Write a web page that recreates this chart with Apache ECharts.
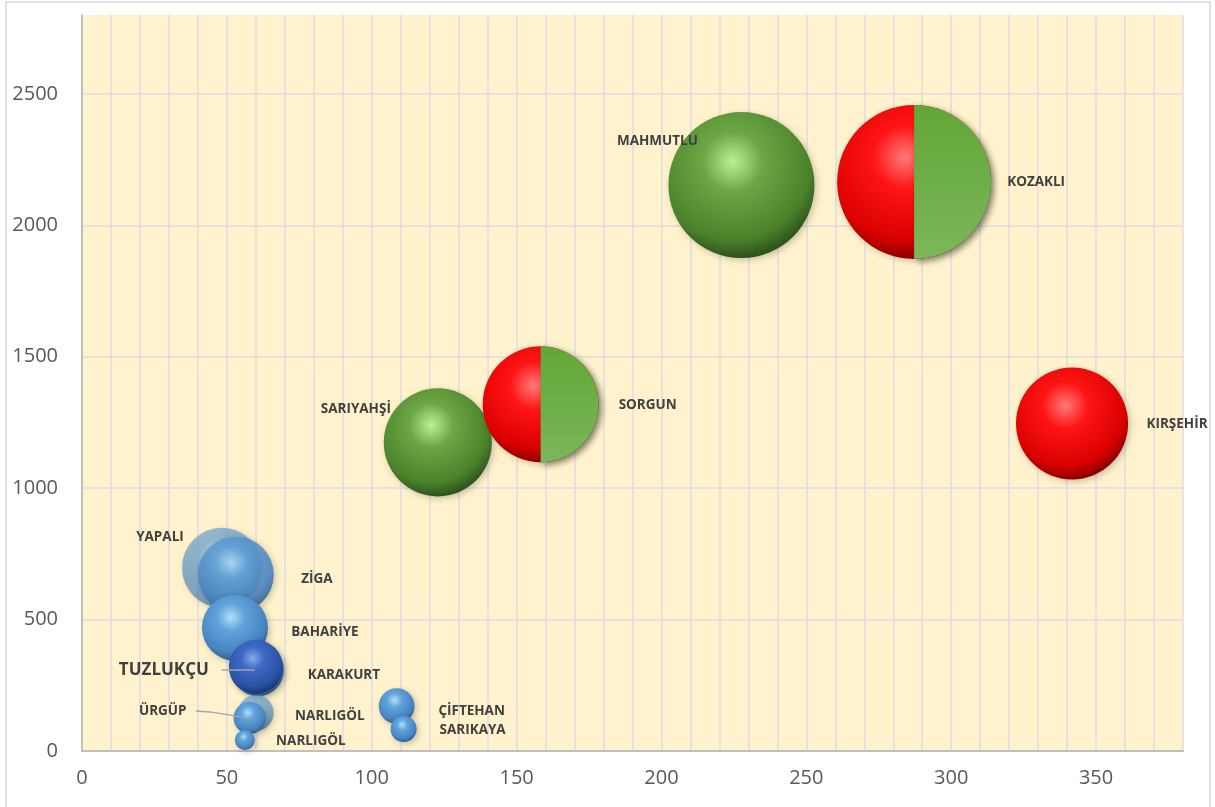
<!DOCTYPE html>
<html>
<head>
<meta charset="utf-8">
<script src="https://cdn.jsdelivr.net/npm/echarts@6/dist/echarts.min.js"></script>
<style>html,body{margin:0;padding:0;background:#fff;}#c{width:1215px;height:807px;}</style>
</head>
<body>
<div id="c"></div>
<script>
// ---- data ----
const names   = ['KIRŞEHİR','KOZAKLI','MAHMUTLU','SARIYAHŞİ','SORGUN','YAPALI','ZİGA','BAHARİYE','KARAKURT','TUZLUKÇU','NARLIGÖL','ÜRGÜP','NARLIGÖL','ÇİFTEHAN','SARIKAYA'];
const xValues = [341.7, 287.2, 227.6, 122.8, 158.3, 48.3, 53.1, 52.8, 60.7, 60.0, 60.0, 57.9, 56.2, 108.6, 111.0];
const yValues = [1246, 2165, 2153, 1174, 1319, 697, 671, 469, 308, 320, 145, 126, 42, 171, 84];
const sizes   = [314, 593, 533, 292, 336, 160, 144, 109, 68, 73, 32, 26, 10, 32, 17];
const kinds   = ['red','split','green','green','split','blueT','blueZ','blue','blue','dark','blueT','blue','blue','blue','blue'];
const xTickStep = 50, yTickStep = 500;

// ---- layout / style (not data) ----
const labelOffsets = [[105,1],[122,0],[-84,-44],[-82,-33],[107,1],[-62,-31],[81,5],[90,4],[86,5],[-92,3],[74,3],[-87,-7],[66,1],[75,5],[69,1]];
function hexA(h,a){ const n=parseInt(h.slice(1),16); return 'rgba('+(n>>16)+','+((n>>8)&255)+','+(n&255)+','+a+')'; }
function sphere(c0,c1,c2,c3,a){
  a = a==null?1:a;
  return {type:'radial', x:0.44, y:0.34, r:0.74, colorStops:[
    {offset:0,color:hexA(c0,a)},{offset:0.28,color:hexA(c1,a)},{offset:0.72,color:hexA(c2,a)},{offset:1,color:hexA(c3,a)}]};
}
const blueStops = ['#B0E0FA','#62A3DC','#4683C0','#234D7A'];
const fills = {
  red:   sphere('#FF7A7A','#FF1414','#DA0000','#5A0000'),
  split: sphere('#FF7A7A','#FF1414','#DA0000','#5A0000'),
  green: sphere('#B8F292','#6CA644','#4A822B','#1C3510'),
  blue:  sphere(...blueStops),
  blueT: sphere(...blueStops, 0.62),
  blueZ: sphere(...blueStops, 0.85),
  dark:  sphere('#86AAEA','#3E6AC6','#2A50A2','#112656')
};
const diam = s => 2*Math.sqrt(s*10);

const mainData = names.map((n,i)=>({
  name:n, value:[xValues[i], yValues[i], sizes[i]],
  itemStyle:{color:fills[kinds[i]], opacity:1,
    shadowBlur:6, shadowColor:'rgba(0,0,0,0.22)', shadowOffsetX:2, shadowOffsetY:2},
  label:{show:true, position:'inside', offset:labelOffsets[i], formatter:'{b}',
    fontFamily:'Open Sans', fontWeight:'bold', fontSize: n==='TUZLUKÇU'?17:13.5, color:'#404040'}
}));
const halfData = [];
names.forEach((n,i)=>{ if(kinds[i]==='split') halfData.push({name:n, value:[xValues[i], yValues[i], sizes[i]]}); });

const chart = echarts.init(document.getElementById('c'), null, {renderer:'canvas'});
chart.setOption({
  animation:false,
  backgroundColor:'#fff',
  grid:{left:82, right:32, top:15, bottom:56, show:true, backgroundColor:'#FFF2CC', borderWidth:0},
  xAxis:{type:'value', min:0, max:380, interval:10,
    axisLine:{show:true, lineStyle:{color:'#BFBFBF', width:2}},
    axisTick:{show:false},
    axisLabel:{interval:0, margin:17, fontFamily:'Open Sans', fontSize:20, color:'#595959',
      formatter:v=> (Math.round(v)%xTickStep===0 ? String(Math.round(v)) : '')},
    splitLine:{show:true, lineStyle:{color:'#DCDCE4', width:1.5}}
  },
  yAxis:{type:'value', min:0, max:2800, interval:yTickStep,
    axisLine:{show:true, lineStyle:{color:'#BFBFBF', width:2}},
    axisTick:{show:false},
    axisLabel:{margin:24, fontFamily:'Open Sans', fontSize:20, color:'#595959', showMaxLabel:false,
      formatter:v=> (v%yTickStep===0 ? String(v) : '')},
    splitLine:{show:true, showMaxLine:false, lineStyle:{color:'#DCDCE4', width:1.5}}
  },
  series:[
    {type:'scatter', data:mainData, symbol:'circle', symbolSize:v=>diam(v[2]), z:2},
    {type:'scatter', data:halfData, symbol:'path://M0,0 A1,1 0 0,1 0,2 Z',
      symbolSize:v=>[diam(v[2])/2, diam(v[2])],
      symbolOffset:v=>[diam(v[2])/4, 0],
      itemStyle:{opacity:1, color:{type:'linear',x:0,y:0,x2:0,y2:1,colorStops:[{offset:0,color:'#62A637'},{offset:1,color:'#7BB75A'}]},
        shadowBlur:6, shadowColor:'rgba(0,0,0,0.35)', shadowOffsetX:3, shadowOffsetY:3},
      label:{show:false}, z:3}
  ]
});

// leader lines (attached to bubble centres via the chart's own scales)
function pt(i){ return chart.convertToPixel({seriesIndex:0}, [xValues[i], yValues[i]]); }
const iT = names.indexOf('TUZLUKÇU'), iU = names.indexOf('ÜRGÜP');
const pT = pt(iT), pU = pt(iU);
chart.setOption({graphic:[
  {type:'rect', z:0, silent:true, shape:{x:6,y:2,width:1204,height:820}, style:{fill:'none', stroke:'#D9D9D9', lineWidth:1.5}},
  {type:'polyline', z:100, silent:true, shape:{points:[[pT[0]-34,pT[1]+3],[pT[0]-1,pT[1]+3]]}, style:{stroke:'#A6A6A6', lineWidth:1.5, fill:'none'}},
  {type:'polyline', z:100, silent:true, shape:{points:[[pU[0]-54,pU[1]-7],[pU[0]-40,pU[1]-6],[pU[0]-2,pU[1]]]}, style:{stroke:'#A6A6A6', lineWidth:1.5, fill:'none'}}
]});
</script>
</body>
</html>
